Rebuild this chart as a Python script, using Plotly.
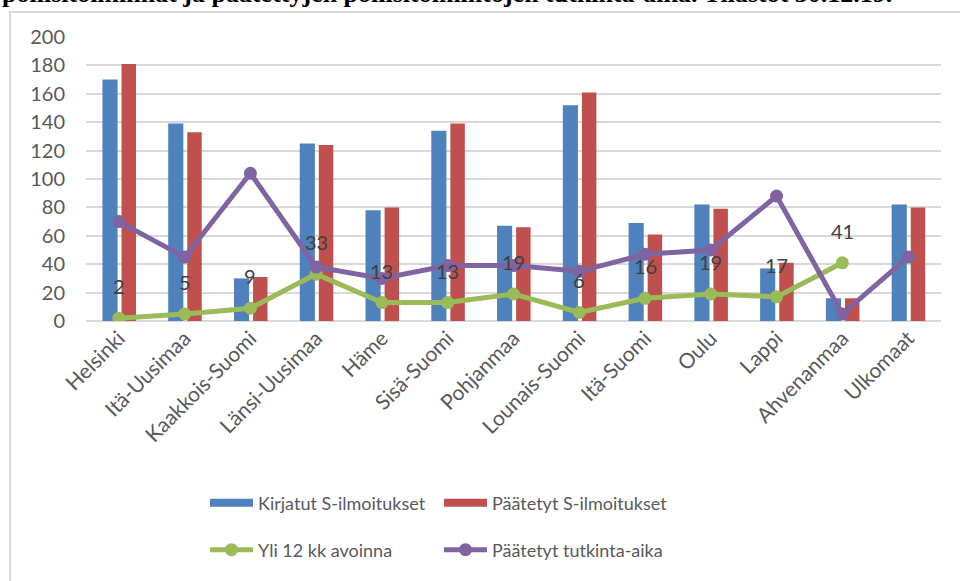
import plotly.graph_objects as go

categories = ["Helsinki", "Itä-Uusimaa", "Kaakkois-Suomi", "Länsi-Uusimaa", "Häme",
              "Sisä-Suomi", "Pohjanmaa", "Lounais-Suomi", "Itä-Suomi", "Oulu",
              "Lappi", "Ahvenanmaa", "Ulkomaat"]
kirjatut = [170, 139, 30, 125, 78, 134, 67, 152, 69, 82, 37, 16, 82]
paatetyt = [181, 133, 31, 124, 80, 139, 66, 161, 61, 79, 41, 16, 80]
yli12 = [2, 5, 9, 33, 13, 13, 19, 6, 16, 19, 17, 41, None]
tutkinta = [70, 45, 104, 38, 30, 39, 39, 35, 47, 50, 88, 5, 45]
y_ticks = [0, 20, 40, 60, 80, 100, 120, 140, 160, 180, 200]
title_text = "poliisitoiminnat ja päätettyjen poliisitoimintojen tutkinta-aika. Tilastot 30.12.19."

BLUE = "#4F81BD"
RED = "#C0504D"
GREEN = "#9BBB59"
PURPLE = "#8064A2"
FONT = "Lato"
TXT = "#595959"

W, H = 960, 581
ML, MR, MT, MB = 86, 19, 37, 260
PW, PH = W - ML - MR, H - MT - MB

def px_x(p):
    return (p - ML) / PW

def px_y(p):
    return (H - MB - p) / PH

fig = go.Figure()

fig.add_trace(go.Bar(x=categories, y=kirjatut, marker_color=BLUE, width=0.23,
                     offset=-0.25, showlegend=False, marker_line_width=0))
fig.add_trace(go.Bar(x=categories, y=paatetyt, marker_color=RED, width=0.22,
                     offset=0.04, showlegend=False, marker_line_width=0))
fig.add_trace(go.Scatter(x=categories, y=yli12, mode="lines+markers",
                         line=dict(color=GREEN, width=5),
                         marker=dict(color=GREEN, size=13),
                         showlegend=False))
fig.add_trace(go.Scatter(x=categories, y=tutkinta, mode="lines+markers",
                         line=dict(color=PURPLE, width=5),
                         marker=dict(color=PURPLE, size=13),
                         showlegend=False))

# legend entries
fig.add_trace(go.Scatter(x=[None], y=[None], mode="lines", name="Kirjatut S-ilmoitukset",
                         line=dict(color=BLUE, width=8), legend="legend"))
fig.add_trace(go.Scatter(x=[None], y=[None], mode="lines", name="Päätetyt S-ilmoitukset",
                         line=dict(color=RED, width=8), legend="legend"))
fig.add_trace(go.Scatter(x=[None], y=[None], mode="lines+markers", name="Yli 12 kk avoinna",
                         line=dict(color=GREEN, width=5), marker=dict(color=GREEN, size=13),
                         legend="legend2"))
fig.add_trace(go.Scatter(x=[None], y=[None], mode="lines+markers", name="Päätetyt tutkinta-aika",
                         line=dict(color=PURPLE, width=5), marker=dict(color=PURPLE, size=13),
                         legend="legend2"))

annotations = []
for c, v in zip(categories, yli12):
    if v is None:
        continue
    annotations.append(dict(x=c, y=v, text=str(v), showarrow=False, yshift=32,
                            font=dict(family=FONT, size=20, color="#404040")))

annotations.append(dict(xref="paper", yref="paper", x=px_x(0), y=px_y(10),
                        xanchor="left", yanchor="bottom", showarrow=False,
                        text="<b>" + title_text + "</b>",
                        font=dict(family="Liberation Serif", size=26, color="#000000")))

legend_common = dict(orientation="h", xanchor="left", yanchor="middle",
                     entrywidth=176, entrywidthmode="pixels", itemwidth=43,
                     font=dict(family=FONT, size=18, color=TXT),
                     bgcolor="rgba(0,0,0,0)", tracegroupgap=0,
                     itemclick=False, itemdoubleclick=False)

fig.update_layout(
    width=W, height=H,
    margin=dict(l=ML, r=MR, t=MT, b=MB),
    paper_bgcolor="white", plot_bgcolor="white",
    barmode="overlay",
    annotations=annotations,
    legend=dict(x=px_x(205), y=px_y(503), **legend_common),
    legend2=dict(x=px_x(205), y=px_y(550), **legend_common),
    shapes=[dict(type="rect", xref="paper", yref="paper",
                 x0=px_x(10), x1=px_x(980), y0=px_y(600), y1=px_y(12),
                 line=dict(color="#D9D9D9", width=2), fillcolor="rgba(0,0,0,0)",
                 layer="below")],
    xaxis=dict(type="category", tickangle=-45, showgrid=False, zeroline=False,
               showline=False, ticks="", range=[-0.5, len(categories) - 0.5],
               tickfont=dict(family=FONT, size=21, color=TXT)),
    yaxis=dict(range=[0, 200], tickvals=y_ticks, showgrid=True, gridcolor="#D9D9D9",
               gridwidth=2, zeroline=True, zerolinecolor="#D9D9D9", zerolinewidth=2,
               showline=False, ticks="", ticklabelstandoff=20,
               tickfont=dict(family=FONT, size=20, color=TXT)),
)

fig.write_html("out.html")
